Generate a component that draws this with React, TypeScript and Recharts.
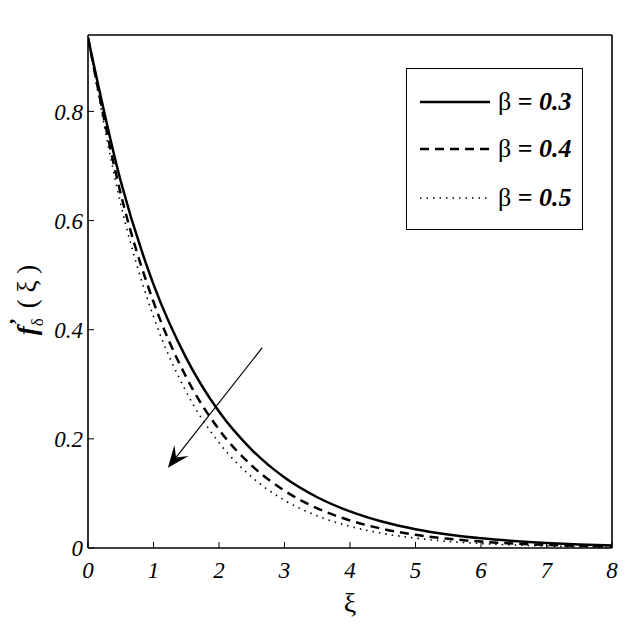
import React from 'react';
import { LineChart, Line, XAxis, YAxis, Legend, ReferenceLine, Label } from 'recharts';

const xiValues = [0, 0.5, 1, 1.5, 2, 2.5, 3, 3.5, 4, 4.5, 5, 5.5, 6, 6.5, 7, 7.5, 8];
const beta03 = [0.935, 0.672, 0.483, 0.348, 0.25, 0.18, 0.129, 0.093, 0.067, 0.048, 0.0345, 0.0248, 0.0178, 0.0128, 0.0092, 0.0066, 0.0048];
const beta04 = [0.935, 0.649, 0.451, 0.313, 0.217, 0.151, 0.105, 0.0727, 0.0505, 0.035, 0.0243, 0.0169, 0.0117, 0.0081, 0.0057, 0.0039, 0.0027];
const beta05 = [0.935, 0.63, 0.424, 0.286, 0.193, 0.13, 0.0874, 0.0589, 0.0397, 0.0267, 0.018, 0.0121, 0.0082, 0.0055, 0.0037, 0.0025, 0.0017];
const xTicks = [0, 1, 2, 3, 4, 5, 6, 7, 8];
const yTicks = [0, 0.2, 0.4, 0.6, 0.8];
const seriesKeys = ['b03', 'b04', 'b05'];
const seriesLabels = ['0.3', '0.4', '0.5'];
const seriesDash = ['0', '9 6', '1.5 5'];
const seriesWidth = [2.5, 2.5, 1.6];

const data = xiValues.map((x, i) => ({ xi: x, b03: beta03[i], b04: beta04[i], b05: beta05[i] }));

const FONT = "'Liberation Serif', 'Times New Roman', Times, serif";

const tickStyle = { fontFamily: FONT, fontStyle: 'italic', fontSize: 23, fill: '#000' };

const ArrowShape = (p: any) => {
  const { x1, y1, x2, y2 } = p;
  const dx = x2 - x1;
  const dy = y2 - y1;
  const len = Math.sqrt(dx * dx + dy * dy) || 1;
  const ux = dx / len;
  const uy = dy / len;
  const nx = -uy;
  const ny = ux;
  const L = 22;
  const W = 9;
  const bx = x2 - ux * L;
  const by = y2 - uy * L;
  const mx = x2 - ux * L * 0.6;
  const my = y2 - uy * L * 0.6;
  const pts = `${x2},${y2} ${bx + nx * W},${by + ny * W} ${mx},${my} ${bx - nx * W},${by - ny * W}`;
  return (
    <g>
      <line x1={x1} y1={y1} x2={mx} y2={my} stroke="#000" strokeWidth={1.2} />
      <polygon points={pts} fill="#000" />
    </g>
  );
};

const renderLegend = () => (
  <div
    style={{
      width: 177,
      height: 162,
      border: '1.6px solid #000',
      boxSizing: 'border-box',
      background: '#fff',
      position: 'relative',
    }}
  >
    {seriesKeys.map((k, i) => (
      <div key={k} style={{ position: 'absolute', left: 13, top: [33, 80, 129][i] - 16, height: 32, display: 'flex', alignItems: 'center' }}>
        <svg width={70} height={10} style={{ display: 'block' }}>
          <line x1={0} y1={5} x2={70} y2={5} stroke="#000" strokeWidth={seriesWidth[i]} strokeDasharray={seriesDash[i]} />
        </svg>
        <span style={{ marginLeft: 8, fontFamily: FONT, fontSize: 26, color: '#000', whiteSpace: 'nowrap', lineHeight: '32px' }}>
          β<span style={{ fontWeight: 'bold' }}> = </span>
          <span style={{ fontWeight: 'bold', fontStyle: 'italic' }}>{seriesLabels[i]}</span>
        </span>
      </div>
    ))}
  </div>
);

const YLabel = () => (
  <text x={28} y={292} transform="rotate(-90 28 292)" textAnchor="middle" fontFamily={FONT} fontSize={27} fill="#000">
    <tspan fontWeight="bold" fontStyle="italic">f</tspan>
    <tspan fontSize={17} dy={7}>δ</tspan>
    <tspan fontSize={22} fontWeight="bold" dx={-7} dy={-19}>’</tspan>
    <tspan dy={12} dx={3}> ( ξ )</tspan>
  </text>
);

export default function App() {
  return (
    <LineChart width={632} height={626} data={data} margin={{ top: 26, right: 27, left: 0, bottom: 0 }}>
      <XAxis
        dataKey="xi"
        type="number"
        domain={[0, 8]}
        ticks={xTicks}
        allowDataOverflow
        height={86}
        axisLine={{ stroke: '#000', strokeWidth: 1.6 }}
        tickLine={{ stroke: '#000', strokeWidth: 1 }}
        tickSize={-6}
        tickMargin={20}
        tick={tickStyle}
      >
        <Label value="ξ" position="insideBottom" offset={22} style={{ fontFamily: FONT, fontSize: 28, fill: '#000' }} />
      </XAxis>
      <XAxis
        xAxisId="top"
        orientation="top"
        type="number"
        domain={[0, 8]}
        ticks={xTicks}
        allowDataOverflow
        height={1}
        axisLine={{ stroke: '#000', strokeWidth: 1.6 }}
        tickLine={{ stroke: '#000', strokeWidth: 1 }}
        tickSize={-6}
        tick={false}
      />
      <YAxis
        type="number"
        domain={[0, 0.94]}
        ticks={yTicks}
        allowDataOverflow
        width={80}
        axisLine={{ stroke: '#000', strokeWidth: 1.6 }}
        tickLine={{ stroke: '#000', strokeWidth: 1 }}
        tickSize={-6}
        tickMargin={11}
        tick={tickStyle}
        label={<YLabel />}
      />
      <YAxis
        yAxisId="right"
        orientation="right"
        type="number"
        domain={[0, 0.94]}
        ticks={yTicks}
        allowDataOverflow
        width={1}
        axisLine={{ stroke: '#000', strokeWidth: 1.6 }}
        tickLine={{ stroke: '#000', strokeWidth: 1 }}
        tickSize={-6}
        tick={false}
      />
      <Legend
        layout="horizontal"
        verticalAlign="middle"
        align="center"
        content={renderLegend}
        wrapperStyle={{ position: 'absolute', top: 60, left: 398, width: 177, height: 162 }}
      />
      {seriesKeys.map((k, i) => (
        <Line
          key={k}
          dataKey={k}
          name={`β = ${seriesLabels[i]}`}
          type="monotone"
          stroke="#000"
          strokeWidth={seriesWidth[i]}
          strokeDasharray={seriesDash[i]}
          dot={false}
          activeDot={false}
          isAnimationActive={false}
        />
      ))}
      <ReferenceLine
        segment={[{ x: 2.66, y: 0.367 }, { x: 1.22, y: 0.147 }]}
        ifOverflow="visible"
        shape={ArrowShape}
      />
    </LineChart>
  );
}
